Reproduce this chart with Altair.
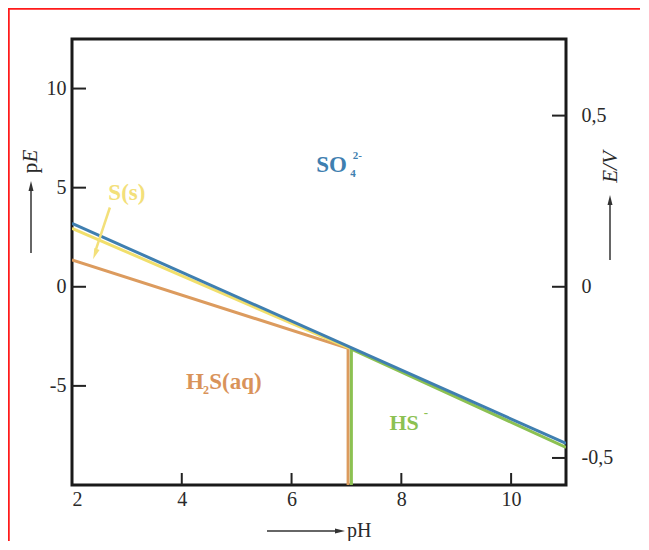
import altair as alt
import pandas as pd

# ---- data ----
X_DOMAIN = [2, 11]
Y_DOMAIN = [-10, 12.5]
E_PER_PE = 0.0579
E_DOMAIN = [Y_DOMAIN[0] * E_PER_PE, Y_DOMAIN[1] * E_PER_PE]

x_ticks = [4, 6, 8, 10]
x_labels = [2, 4, 6, 8, 10]
y_ticks = [-5, 0, 5, 10]
e_ticks = [-0.5, 0, 0.5]

orange_x = [2, 7.03, 7.03]
orange_y = [1.35, -3.1, -10]
yellow_x = [2, 7.05]
yellow_y = [2.95, -3.1]
green_x = [11, 7.09, 7.09]
green_y = [-8.1, -3.15, -10]
blue_x = [2, 11]
blue_y = [3.2, -7.9]

series_names = ["orange", "yellow", "green", "blue"]
series_colors = ["#dc9b5e", "#f1df6c", "#8cc152", "#3f7fb0"]

label_text = ["SO", "4", "2-", "S(s)", "H", "2", "S(aq)", "HS", "-"]
label_x = [6.73, 7.12, 7.2, 3.0, 4.24, 4.44, 4.5, 8.05, 8.45]
label_y = [6.15, 5.7, 6.6, 4.75, -4.8, -5.2, -4.8, -6.87, -6.35]
label_color = ["#3f7fb0", "#3f7fb0", "#3f7fb0", "#f3e07a", "#d9935a", "#d9935a", "#d9935a", "#8cc152", "#8cc152"]
label_size = [23, 11, 11, 23, 23, 12, 23, 22, 13]
label_align = ["center", "center", "center", "center", "center", "center", "left", "center", "center"]

arrow_x = [2.69, 2.42]
arrow_y = [4.0, 1.75]

W, H = 494, 446
SERIF = "Liberation Serif"
LBL = 20

rows = []
for name, xs_, ys_ in [("orange", orange_x, orange_y), ("yellow", yellow_x, yellow_y),
                       ("green", green_x, green_y), ("blue", blue_x, blue_y)]:
    for i, (a, b) in enumerate(zip(xs_, ys_)):
        rows.append({"series": name, "pH": a, "pE": b, "i": i})
lines_df = pd.DataFrame(rows)

xs = alt.Scale(domain=X_DOMAIN, nice=False, zero=False)
ys = alt.Scale(domain=Y_DOMAIN, nice=False, zero=False)

x_axis = alt.Axis(values=x_labels, ticks=False, domain=False, grid=False, title=None,
                  labelPadding=4, labelFont=SERIF, labelFontSize=LBL, labelColor="#2a2a2a",
                  labelExpr="toString(datum.value)")
y_axis = alt.Axis(values=y_ticks, ticks=False, domain=False, grid=False, title=None,
                  labelPadding=6, labelFont=SERIF, labelFontSize=LBL, labelColor="#2a2a2a",
                  labelExpr="toString(datum.value)")

lines = alt.Chart(lines_df).mark_line(strokeWidth=3, clip=True).encode(
    x=alt.X("pH:Q", scale=xs, axis=x_axis),
    y=alt.Y("pE:Q", scale=ys, axis=y_axis),
    color=alt.Color("series:N", scale=alt.Scale(domain=series_names, range=series_colors), legend=None),
    detail="series:N",
    order=alt.Order("i:Q"),
)

labels_df = pd.DataFrame({"t": label_text, "pH": label_x, "pE": label_y, "c": label_color,
                          "s": label_size, "a": label_align})
labels = []
for al in ["center", "left"]:
    labels.append(alt.Chart(labels_df[labels_df.a == al]).mark_text(
        font=SERIF, fontWeight="bold", align=al, baseline="middle").encode(
        x=alt.X("pH:Q", scale=xs), y=alt.Y("pE:Q", scale=ys), text="t:N",
        color=alt.Color("c:N", scale=None), size=alt.Size("s:Q", scale=None)))

arrow_df = pd.DataFrame({"x1": [arrow_x[0]], "y1": [arrow_y[0]], "x2": [arrow_x[1]], "y2": [arrow_y[1]]})
s_arrow = alt.Chart(arrow_df).mark_rule(color="#f3e07a", strokeWidth=2.5).encode(
    x=alt.X("x1:Q", scale=xs), y=alt.Y("y1:Q", scale=ys), x2="x2:Q", y2="y2:Q")
head_df = pd.DataFrame({"pH": [arrow_x[1]], "pE": [arrow_y[1] - 0.1]})
s_head = alt.Chart(head_df).mark_point(shape="M0,1L-0.5,-1L0.5,-1Z", filled=True, opacity=1,
                                       color="#f3e07a", size=120, angle=21).encode(
    x=alt.X("pH:Q", scale=xs), y=alt.Y("pE:Q", scale=ys))

xt = alt.Chart(pd.DataFrame({"v": x_ticks})).mark_rule(color="#222", strokeWidth=2).encode(
    x=alt.X("v:Q", scale=xs), y=alt.value(H), y2=alt.value(H - 12))
yt = alt.Chart(pd.DataFrame({"v": y_ticks})).mark_rule(color="#222", strokeWidth=2).encode(
    y=alt.Y("v:Q", scale=ys), x=alt.value(0), x2=alt.value(14))

e_axis = alt.Axis(orient="right", values=e_ticks, ticks=False, domain=False, grid=False, title=None,
                  labelPadding=15, labelFont=SERIF, labelFontSize=LBL, labelColor="#2a2a2a",
                  labelExpr="datum.value == 0 ? '0' : replace(toString(datum.value), '.', ',')")
et = alt.Chart(pd.DataFrame({"E": e_ticks})).mark_rule(color="#222", strokeWidth=2).encode(
    y=alt.Y("E:Q", scale=alt.Scale(domain=E_DOMAIN, nice=False, zero=False), axis=e_axis),
    x=alt.value(W), x2=alt.value(W - 14))

one = pd.DataFrame({"a": [0]})

def rule(x, x2, y, y2, color="#333", sw=1.5):
    return alt.Chart(one).mark_rule(color=color, strokeWidth=sw).encode(
        x=alt.value(x), x2=alt.value(x2), y=alt.value(y), y2=alt.value(y2))

def head(x, y, ang):
    return alt.Chart(one).mark_point(shape="M0,-1L0.5,1L-0.5,1Z", filled=True, opacity=1,
                                     color="#333", size=100, angle=ang).encode(
        x=alt.value(x), y=alt.value(y))

def txt(x, y, t, style="normal", angle=0, size=21, align="center", baseline="middle"):
    return alt.Chart(one).mark_text(font=SERIF, fontSize=size, fontStyle=style, angle=angle,
                                    align=align, baseline=baseline, color="#2a2a2a", text=t).encode(
        x=alt.value(x), y=alt.value(y))

deco = [
    # left axis title
    rule(-41, -41, 214, 150), head(-41, 147, 0),
    txt(-41, 129, "p", angle=270), txt(-41, 117, "E", style="italic", angle=270),
    # right axis title
    rule(538, 538, 221, 165), head(538, 161, 0),
    txt(539, 128, "E/V", style="italic", angle=270),
    # bottom axis title
    rule(195, 266, 492, 492), head(268, 492, 90),
    txt(275, 498, "pH", size=20, align="left", baseline="alphabetic"),
    # red frame of the picture
    rule(-63.5, -63.5, -31, 520, color="#ff1a1a", sw=2.5),
    rule(-64, 610, -30.5, -30.5, color="#ff1a1a", sw=2.5),
]

main = alt.layer(lines, *labels, s_arrow, s_head, xt, yt, *deco)

chart = alt.layer(main, et).resolve_scale(
    y="independent"
).properties(
    width=W, height=H,
    autosize=alt.AutoSizeParams(type="none"),
    padding={"left": 64, "top": 31, "right": 74, "bottom": 56},
    background="white",
).configure_view(stroke="#1a1a1a", strokeWidth=3)

chart.save("out.html", embed_options={"renderer": "svg", "actions": False})
